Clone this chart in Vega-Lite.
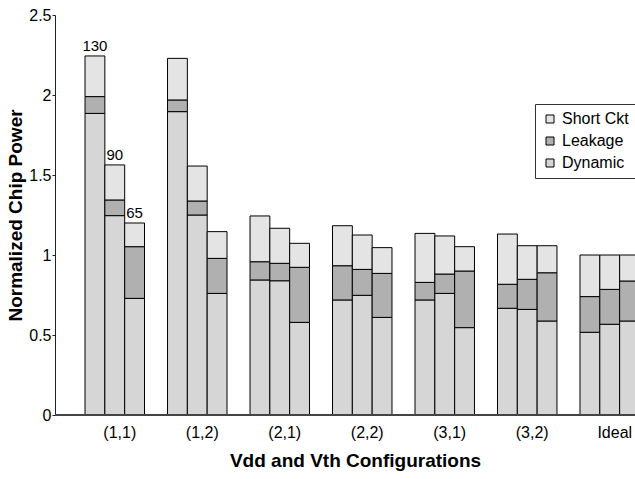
{
  "$schema": "https://vega.github.io/schema/vega-lite/v6.json",
  "width": 580,
  "height": 400,
  "autosize": {"type": "none"},
  "padding": {"left": 55, "top": 15, "right": 0, "bottom": 64},
  "background": "white",
  "config": {
    "font": "Liberation Sans",
    "view": {"stroke": null},
    "axis": {"grid": false, "labelFont": "Liberation Sans", "titleFont": "Liberation Sans", "labelColor": "black", "titleColor": "black"}
  },
  "data": {
    "values": [
      {"config": "(1,1)", "node": "130", "component": "Dynamic", "value": 1.885},
      {"config": "(1,1)", "node": "130", "component": "Leakage", "value": 0.105},
      {"config": "(1,1)", "node": "130", "component": "Short Ckt", "value": 0.254},
      {"config": "(1,1)", "node": "90", "component": "Dynamic", "value": 1.246},
      {"config": "(1,1)", "node": "90", "component": "Leakage", "value": 0.098},
      {"config": "(1,1)", "node": "90", "component": "Short Ckt", "value": 0.219},
      {"config": "(1,1)", "node": "65", "component": "Dynamic", "value": 0.729},
      {"config": "(1,1)", "node": "65", "component": "Leakage", "value": 0.323},
      {"config": "(1,1)", "node": "65", "component": "Short Ckt", "value": 0.148},
      {"config": "(1,2)", "node": "130", "component": "Dynamic", "value": 1.896},
      {"config": "(1,2)", "node": "130", "component": "Leakage", "value": 0.073},
      {"config": "(1,2)", "node": "130", "component": "Short Ckt", "value": 0.26},
      {"config": "(1,2)", "node": "90", "component": "Dynamic", "value": 1.25},
      {"config": "(1,2)", "node": "90", "component": "Leakage", "value": 0.0875},
      {"config": "(1,2)", "node": "90", "component": "Short Ckt", "value": 0.2185},
      {"config": "(1,2)", "node": "65", "component": "Dynamic", "value": 0.76},
      {"config": "(1,2)", "node": "65", "component": "Leakage", "value": 0.219},
      {"config": "(1,2)", "node": "65", "component": "Short Ckt", "value": 0.167},
      {"config": "(2,1)", "node": "130", "component": "Dynamic", "value": 0.844},
      {"config": "(2,1)", "node": "130", "component": "Leakage", "value": 0.114},
      {"config": "(2,1)", "node": "130", "component": "Short Ckt", "value": 0.286},
      {"config": "(2,1)", "node": "90", "component": "Dynamic", "value": 0.839},
      {"config": "(2,1)", "node": "90", "component": "Leakage", "value": 0.109},
      {"config": "(2,1)", "node": "90", "component": "Short Ckt", "value": 0.219},
      {"config": "(2,1)", "node": "65", "component": "Dynamic", "value": 0.579},
      {"config": "(2,1)", "node": "65", "component": "Leakage", "value": 0.344},
      {"config": "(2,1)", "node": "65", "component": "Short Ckt", "value": 0.15},
      {"config": "(2,2)", "node": "130", "component": "Dynamic", "value": 0.719},
      {"config": "(2,2)", "node": "130", "component": "Leakage", "value": 0.214},
      {"config": "(2,2)", "node": "130", "component": "Short Ckt", "value": 0.25},
      {"config": "(2,2)", "node": "90", "component": "Dynamic", "value": 0.748},
      {"config": "(2,2)", "node": "90", "component": "Leakage", "value": 0.162},
      {"config": "(2,2)", "node": "90", "component": "Short Ckt", "value": 0.215},
      {"config": "(2,2)", "node": "65", "component": "Dynamic", "value": 0.61},
      {"config": "(2,2)", "node": "65", "component": "Leakage", "value": 0.275},
      {"config": "(2,2)", "node": "65", "component": "Short Ckt", "value": 0.161},
      {"config": "(3,1)", "node": "130", "component": "Dynamic", "value": 0.719},
      {"config": "(3,1)", "node": "130", "component": "Leakage", "value": 0.11},
      {"config": "(3,1)", "node": "130", "component": "Short Ckt", "value": 0.306},
      {"config": "(3,1)", "node": "90", "component": "Dynamic", "value": 0.76},
      {"config": "(3,1)", "node": "90", "component": "Leakage", "value": 0.121},
      {"config": "(3,1)", "node": "90", "component": "Short Ckt", "value": 0.238},
      {"config": "(3,1)", "node": "65", "component": "Dynamic", "value": 0.546},
      {"config": "(3,1)", "node": "65", "component": "Leakage", "value": 0.354},
      {"config": "(3,1)", "node": "65", "component": "Short Ckt", "value": 0.152},
      {"config": "(3,2)", "node": "130", "component": "Dynamic", "value": 0.667},
      {"config": "(3,2)", "node": "130", "component": "Leakage", "value": 0.15},
      {"config": "(3,2)", "node": "130", "component": "Short Ckt", "value": 0.314},
      {"config": "(3,2)", "node": "90", "component": "Dynamic", "value": 0.66},
      {"config": "(3,2)", "node": "90", "component": "Leakage", "value": 0.188},
      {"config": "(3,2)", "node": "90", "component": "Short Ckt", "value": 0.21},
      {"config": "(3,2)", "node": "65", "component": "Dynamic", "value": 0.5875},
      {"config": "(3,2)", "node": "65", "component": "Leakage", "value": 0.3015},
      {"config": "(3,2)", "node": "65", "component": "Short Ckt", "value": 0.169},
      {"config": "Ideal", "node": "130", "component": "Dynamic", "value": 0.517},
      {"config": "Ideal", "node": "130", "component": "Leakage", "value": 0.223},
      {"config": "Ideal", "node": "130", "component": "Short Ckt", "value": 0.26},
      {"config": "Ideal", "node": "90", "component": "Dynamic", "value": 0.567},
      {"config": "Ideal", "node": "90", "component": "Leakage", "value": 0.218},
      {"config": "Ideal", "node": "90", "component": "Short Ckt", "value": 0.215},
      {"config": "Ideal", "node": "65", "component": "Dynamic", "value": 0.5875},
      {"config": "Ideal", "node": "65", "component": "Leakage", "value": 0.25},
      {"config": "Ideal", "node": "65", "component": "Short Ckt", "value": 0.1625}
    ]
  },
  "encoding": {
    "x": {
      "field": "config", "type": "nominal", "sort": null,
      "scale": {"range": [0, 614.5], "paddingInner": 0.279, "paddingOuter": 0.364},
      "axis": {
        "title": "Vdd and Vth Configurations", "titleFontSize": 19, "titleFontWeight": "bold",
        "titleX": 300, "labelFontSize": 16, "labelAngle": 0, "domain": false, "ticks": false, "tickSize": 0,
        "labelPadding": 9, "labelOffset": 5, "titlePadding": 11
      }
    },
    "xOffset": {"field": "node", "type": "nominal", "sort": ["130", "90", "65"], "scale": {"paddingInner": 0, "paddingOuter": 0}}
  },
  "layer": [
    {
      "mark": {"type": "bar", "stroke": "black", "strokeWidth": 1, "clip": true},
      "encoding": {
        "y": {
          "field": "value", "type": "quantitative", "stack": "zero",
          "scale": {"domain": [0, 2.5], "nice": false},
          "axis": {
            "title": "Normalized Chip Power", "titleFontSize": 19, "titleFontWeight": "bold",
            "values": [0, 0.5, 1, 1.5, 2, 2.5], "format": "~g", "labelFontSize": 16,
            "tickSize": 3, "labelPadding": 1, "titlePadding": 3, "domainColor": "#222", "tickColor": "#222"
          }
        },
        "color": {
          "field": "component", "type": "nominal",
          "scale": {"domain": ["Short Ckt", "Leakage", "Dynamic"], "range": ["#e4e4e4", "#b0b0b0", "#d6d6d6"]},
          "legend": {
            "title": null, "orient": "none", "legendX": 480, "legendY": 89,
            "strokeColor": "#333", "fillColor": "white", "padding": 7,
            "symbolType": "square", "symbolSize": 64, "symbolStrokeColor": "black", "symbolStrokeWidth": 1,
            "labelFontSize": 16, "labelColor": "black", "rowPadding": 6, "labelOffset": 4
          }
        },
        "order": {"field": "component", "sort": "ascending"}
      }
    },
    {
      "transform": [
        {"filter": "datum.config == '(1,1)'"},
        {"aggregate": [{"op": "sum", "field": "value", "as": "total"}], "groupby": ["config", "node"]}
      ],
      "mark": {"type": "text", "fontSize": 15, "baseline": "alphabetic", "dy": -5, "color": "black"},
      "encoding": {
        "y": {"field": "total", "type": "quantitative"},
        "text": {"field": "node", "type": "nominal"}
      }
    },
    {
      "mark": {"type": "rule", "color": "#444", "strokeWidth": 1},
      "encoding": {"y": {"datum": 0}, "x": null, "xOffset": null}
    }
  ]
}
